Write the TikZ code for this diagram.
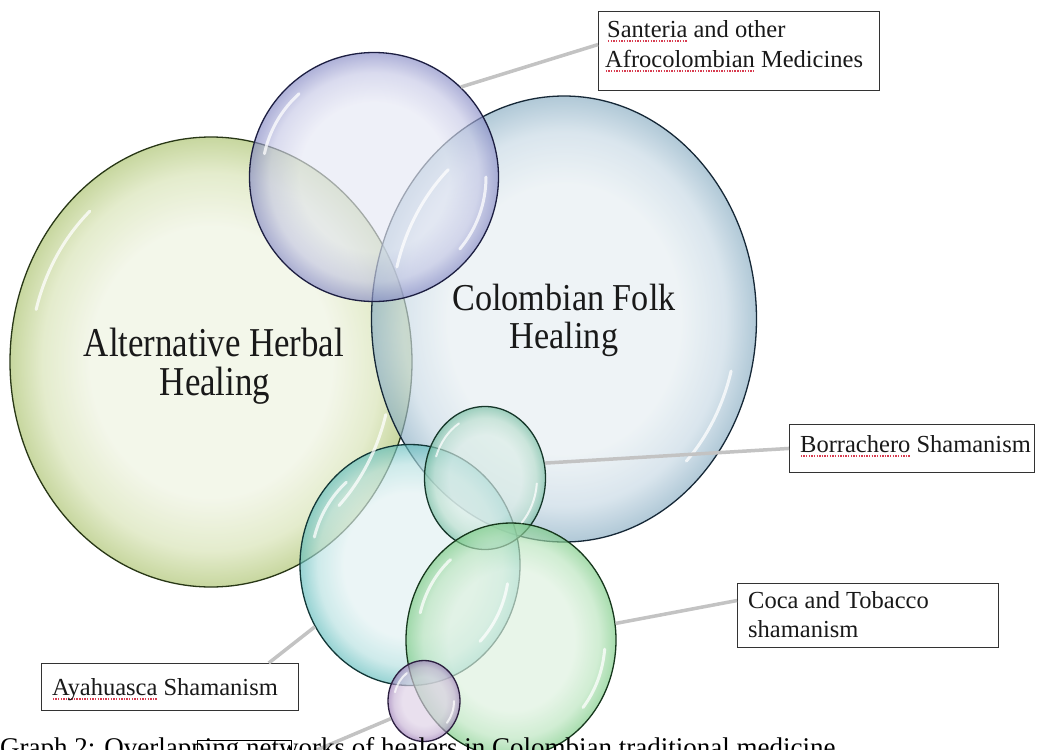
\documentclass[tikz,border=0pt]{standalone}
\usepackage{fontspec}
\setmainfont{Liberation Serif}
\newfontfamily\fontAH[FakeStretch=0.85]{Liberation Serif}
\newfontfamily\fontCF[FakeStretch=0.9]{Liberation Serif}
\usetikzlibrary{shapes.geometric,calc}

\definecolor{spell}{RGB}{215,60,80}
\definecolor{connc}{RGB}{195,195,195}
\definecolor{txt}{RGB}{25,25,25}
% bubble colours: inner, mid, rim, outline
\definecolor{cAHi}{RGB}{238,243,224}\definecolor{cAHm}{RGB}{214,226,178}\definecolor{cAHr}{RGB}{170,194,108}\definecolor{cAHo}{RGB}{40,55,22}
\definecolor{cCFi}{RGB}{230,238,242}\definecolor{cCFm}{RGB}{198,216,228}\definecolor{cCFr}{RGB}{135,172,194}\definecolor{cCFo}{RGB}{22,40,55}
\definecolor{cSTi}{RGB}{230,232,245}\definecolor{cSTm}{RGB}{198,200,230}\definecolor{cSTr}{RGB}{132,136,196}\definecolor{cSTo}{RGB}{28,30,65}
\definecolor{cBOi}{RGB}{220,238,231}\definecolor{cBOm}{RGB}{184,222,205}\definecolor{cBOr}{RGB}{115,188,160}\definecolor{cBOo}{RGB}{22,55,42}
\definecolor{cAYi}{RGB}{225,241,242}\definecolor{cAYm}{RGB}{180,224,224}\definecolor{cAYr}{RGB}{95,188,188}\definecolor{cAYo}{RGB}{18,55,55}
\definecolor{cCOi}{RGB}{221,241,222}\definecolor{cCOm}{RGB}{184,228,188}\definecolor{cCOr}{RGB}{120,202,130}\definecolor{cCOo}{RGB}{22,55,28}
\definecolor{cPUi}{RGB}{222,208,230}\definecolor{cPUm}{RGB}{198,178,212}\definecolor{cPUr}{RGB}{152,120,180}\definecolor{cPUo}{RGB}{42,30,62}

\newcommand\mkshade[1]{\pgfdeclareradialshading{sh#1}{\pgfpointorigin}{color(0bp)=(c#1i); color(15bp)=(c#1i); color(21bp)=(c#1m); color(25bp)=(c#1r); color(50bp)=(c#1r)}}
\mkshade{AH}\mkshade{CF}\mkshade{ST}\mkshade{BO}\mkshade{AY}\mkshade{CO}\mkshade{PU}

\newsavebox\wvbox
\newcommand\wv[1]{\sbox\wvbox{#1}\rlap{\raisebox{-4.5pt}{\color{spell}\hbox to \wd\wvbox{\xleaders\hbox to 2.6pt{\hss\rule{1.4pt}{1.1pt}\hss}\hfill}}}#1}

\tikzset{
  bub/.style={ellipse, inner sep=0pt, line width=1.3pt, fill opacity=0.65},
  conn/.style={draw=connc, line width=3.5pt},
  lbox/.style={draw=black!80, line width=0.9pt, rectangle, inner sep=0pt, anchor=north west},
  lbl/.style={font=\fontsize{24.5}{28}\selectfont, inner sep=0pt, anchor=base west, text=txt},
  hl/.style={white, line width=3pt, line cap=round, opacity=0.75},
  hls/.style={white, line width=2pt, line cap=round, opacity=0.75},
  bigA/.style={font=\fontAH\fontsize{41}{41}\selectfont, inner sep=0pt, anchor=base, text=txt},
  bigC/.style={font=\fontCF\fontsize{38}{38}\selectfont, inner sep=0pt, anchor=base, text=txt},
}

\begin{document}
\begin{tikzpicture}[x=1pt,y=-1pt]
\useasboundingbox (0,0) rectangle (1042,750);
\fill[white] (0,0) rectangle (1042,750);

% bubbles
\node[bub, shading=shAH, draw=cAHo, minimum width=402pt, minimum height=450pt] (nAH) at (211,362) {};
\node[bub, shading=shCF, draw=cCFo, minimum width=385pt, minimum height=446pt] (nCF) at (564,319) {};
\node[bub, shading=shST, draw=cSTo, minimum width=249pt, minimum height=249pt] (nST) at (374,177) {};
\node[bub, shading=shAY, draw=cAYo, minimum width=220pt, minimum height=241pt] (nAY) at (410,565) {};
\node[bub, shading=shBO, draw=cBOo, minimum width=121pt, minimum height=143pt] (nBO) at (485,478) {};
\node[bub, shading=shCO, draw=cCOo, minimum width=210pt, minimum height=234pt] (nCO) at (511,640) {};
\node[bub, shading=shPU, draw=cPUo, minimum width=72pt, minimum height=81pt] (nPU) at (424,701) {};

% highlights
\begin{scope}[shift={(211,362)}]
 \draw[hl] (195:181 and 203) arc[start angle=195,end angle=228,x radius=181,y radius=203];
 \draw[hl] (15:181 and 203) arc[start angle=15,end angle=45,x radius=181,y radius=203];
\end{scope}
\begin{scope}[shift={(564,319)}]
 \draw[hl] (195:173 and 201) arc[start angle=195,end angle=228,x radius=173,y radius=201];
 \draw[hl] (15:173 and 201) arc[start angle=15,end angle=45,x radius=173,y radius=201];
\end{scope}
\begin{scope}[shift={(374,177)}]
 \draw[hl] (192:112 and 112) arc[start angle=192,end angle=228,x radius=112,y radius=112];
 \draw[hl] (0:112 and 112) arc[start angle=0,end angle=40,x radius=112,y radius=112];
\end{scope}
\begin{scope}[shift={(410,565)}]
 \draw[hl] (195:99 and 108) arc[start angle=195,end angle=230,x radius=99,y radius=108];
 \draw[hl] (10:99 and 108) arc[start angle=10,end angle=45,x radius=99,y radius=108];
\end{scope}
\begin{scope}[shift={(485,478)}]
 \draw[hls] (200:52 and 63) arc[start angle=200,end angle=240,x radius=52,y radius=63];
 \draw[hls] (5:52 and 63) arc[start angle=5,end angle=45,x radius=52,y radius=63];
\end{scope}
\begin{scope}[shift={(511,640)}]
 \draw[hl] (195:94 and 105) arc[start angle=195,end angle=230,x radius=94,y radius=105];
 \draw[hl] (5:94 and 105) arc[start angle=5,end angle=40,x radius=94,y radius=105];
\end{scope}
\begin{scope}[shift={(424,701)}]
 \draw[hls] (195:30 and 34) arc[start angle=195,end angle=235,x radius=30,y radius=34];
 \draw[hls] (0:30 and 34) arc[start angle=0,end angle=40,x radius=30,y radius=34];
\end{scope}

% big texts
\node[bigA] (ah1) at (214,356) {Alternative Herbal};
\node[bigA] (ah2) at (215,395) {Healing};
\node[bigC] (cf1) at (564,310) {Colombian Folk};
\node[bigC] (cf2) at (564,348) {Healing};

% label boxes
\node[lbox, minimum width=281pt, minimum height=79pt] (sbox) at (598,11) {};
\node[lbl] (st1) at (607,37) {\wv{Santeria} and other};
\node[lbl] (st2) at (605,67) {\wv{Afrocolombian} Medicines};

\node[lbox, minimum width=245pt, minimum height=48pt] (bbox) at (789,424) {};
\node[lbl] (bt1) at (800,452) {\wv{Borrachero} Shamanism};

\node[lbox, minimum width=261pt, minimum height=64pt] (cbox) at (737,583) {};
\node[lbl] (ct1) at (748,608) {Coca and Tobacco};
\node[lbl] (ct2) at (748,637) {shamanism};

\node[lbox, minimum width=257pt, minimum height=47pt] (abox) at (41,663) {};
\node[lbl] (at1) at (52,695) {\wv{Ayahuasca} Shamanism};

% connectors
\draw[conn] ($(sbox.north west)!0.42!(sbox.south west)$) -- (nST.46);
\draw[conn] (bbox.west) -- (nBO.14);
\draw[conn] ($(cbox.north west)!0.27!(cbox.south west)$) -- (nCO.9);
\draw[conn] ($(abox.north west)!0.883!(abox.north east)$) -- (nAY.213);
\coordinate (pend) at (312,752);
\draw[conn] (nPU.208) -- (pend);

% caption
\node[font=\fontsize{27}{31}\selectfont, anchor=base west, inner sep=0pt] (cap) at (0,756) {Graph 2: Overlapping networks of healers in Colombian traditional medicine};
\draw[line width=0.8pt] (197,762) -- (197,740) -- (291,740) -- (291,762);
\end{tikzpicture}
\end{document}
